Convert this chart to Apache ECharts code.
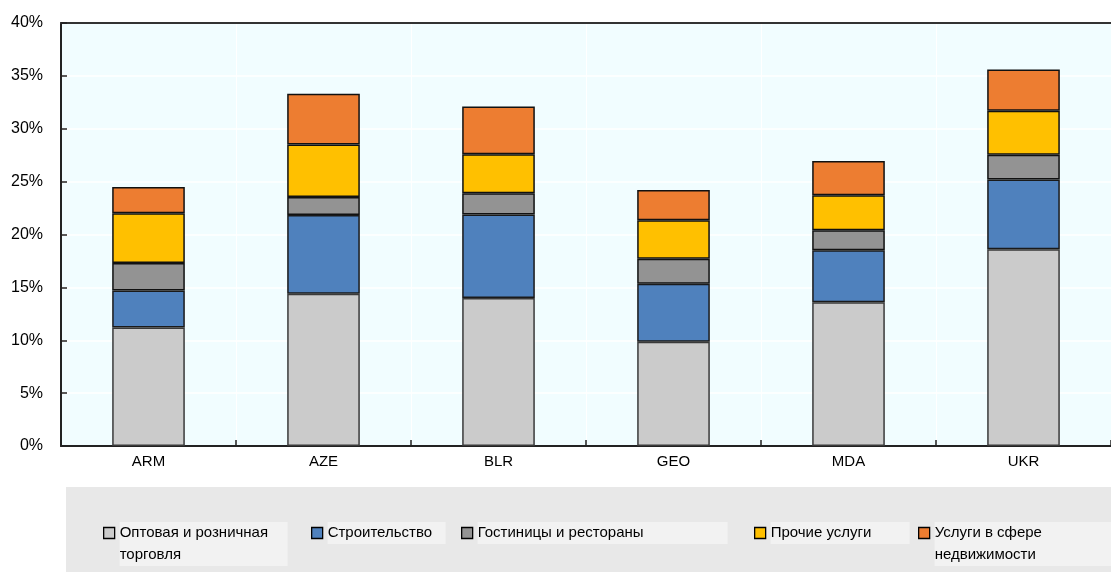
<!DOCTYPE html>
<html>
<head>
<meta charset="utf-8">
<script src="https://cdn.jsdelivr.net/npm/echarts@6/dist/echarts.min.js"></script>
<style>
  html, body { margin: 0; padding: 0; background: #ffffff; }
  #chart-container { width: 1111px; height: 572px; }
</style>
</head>
<body>
<div id="chart-container"></div>
<script>
// Страны
const countries = ['ARM', 'AZE', 'BLR', 'GEO', 'MDA', 'UKR'];

// Доли секторов, %
const tradeValues = [11.2, 14.4, 14.0, 9.85, 13.6, 18.6];
const constructionValues = [3.5, 7.45, 7.9, 5.5, 4.9, 6.6];
const hotelsValues = [2.6, 1.7, 2.0, 2.35, 1.9, 2.35];
const otherServicesValues = [4.7, 4.95, 3.7, 3.65, 3.3, 4.15];
const realEstateValues = [2.5, 4.8, 4.5, 2.85, 3.25, 3.9];

const seriesNames = [
    'Оптовая и розничная торговля',
    'Строительство',
    'Гостиницы и рестораны',
    'Прочие услуги',
    'Услуги в сфере недвижимости'
];
const legendLabels = [
    'Оптовая и розничная\nторговля',
    'Строительство',
    'Гостиницы и рестораны',
    'Прочие услуги',
    'Услуги в сфере\nнедвижимости'
];
const yTicks = [0, 5, 10, 15, 20, 25, 30, 35, 40];

const seriesData = [tradeValues, constructionValues, hotelsValues, otherServicesValues, realEstateValues];
const colors = ['#cbcbcb', '#4f81bd', '#939393', '#ffc000', '#ed7d31'];
const borderColors = ['#3a3a3a', '#1a1a1a', '#111111', '#111111', '#111111'];

// Позиции и фон подписей легенды
const legendLeft = [103, 311, 461, 754, 918];
const legendTextWidth = [168, 118, 250, 139, 178];

// квадрат сверху, чтобы он стоял на уровне первой строки
const topSquareIcon = 'path://M0,0L11,0L11,11L0,11Z M0,33';

var dom = document.getElementById('chart-container');
var myChart = echarts.init(dom, null, { renderer: 'canvas' });

const fontFamily = '"Liberation Sans", Arial, sans-serif';

var option = {
    animation: false,
    color: colors,
    textStyle: { fontFamily: fontFamily },
    graphic: [{
        type: 'rect',
        left: 66,
        top: 487,
        shape: { width: 1045, height: 85 },
        style: { fill: '#e8e8e8' },
        z: -10
    }],
    grid: {
        left: 61,
        right: 0,
        top: 23,
        bottom: 126,
        show: true,
        backgroundColor: '#f1fdff',
        borderWidth: 0
    },
    legend: seriesNames.map(function (name, i) {
        const twoLines = legendLabels[i].indexOf('\n') >= 0;
        return {
            data: [name],
            left: legendLeft[i],
            top: 522,
            orient: 'horizontal',
            icon: twoLines ? topSquareIcon : 'rect',
            itemWidth: 11,
            itemHeight: twoLines ? 33 : 11,
            itemGap: 0,
            padding: 0,
            selectedMode: false,
            itemStyle: { borderColor: '#000', borderWidth: 1.3 },
            formatter: function () { return legendLabels[i]; },
            textStyle: {
                fontFamily: fontFamily,
                fontSize: 15,
                color: '#000',
                lineHeight: 22,
                backgroundColor: '#f2f2f2',
                width: legendTextWidth[i]
            },
            align: 'left'
        };
    }),
    xAxis: [{
        type: 'category',
        data: countries,
        boundaryGap: true,
        axisLine: { lineStyle: { color: '#222', width: 2 } },
        axisTick: { show: true, inside: true, length: 6, lineStyle: { color: '#222', width: 1.5 } },
        axisLabel: { color: '#000', fontSize: 15, margin: 8, fontFamily: fontFamily },
        splitLine: { show: true, lineStyle: { color: '#ffffff', width: 1 } }
    }, {
        type: 'category',
        data: countries,
        position: 'top',
        axisLine: { show: true, lineStyle: { color: '#333', width: 2 } },
        axisTick: { show: false },
        axisLabel: { show: false },
        splitLine: { show: false }
    }],
    yAxis: {
        type: 'value',
        min: yTicks[0],
        max: yTicks[yTicks.length - 1],
        interval: 5,
        axisLine: { show: true, lineStyle: { color: '#222', width: 2 } },
        axisTick: { show: true, inside: true, length: 6, lineStyle: { color: '#222', width: 1.5 } },
        axisLabel: {
            color: '#000',
            fontSize: 16,
            margin: 18,
            fontFamily: fontFamily,
            formatter: '{value}%'
        },
        splitLine: { show: true, lineStyle: { color: '#ffffff', width: 1.5 } }
    },
    series: seriesNames.map(function (name, i) {
        return {
            name: name,
            type: 'bar',
            stack: 'total',
            barWidth: '41.5%',
            data: seriesData[i],
            itemStyle: {
                color: colors[i],
                borderColor: borderColors[i],
                borderWidth: 1.5
            }
        };
    })
};

myChart.setOption(option);
</script>
</body>
</html>
